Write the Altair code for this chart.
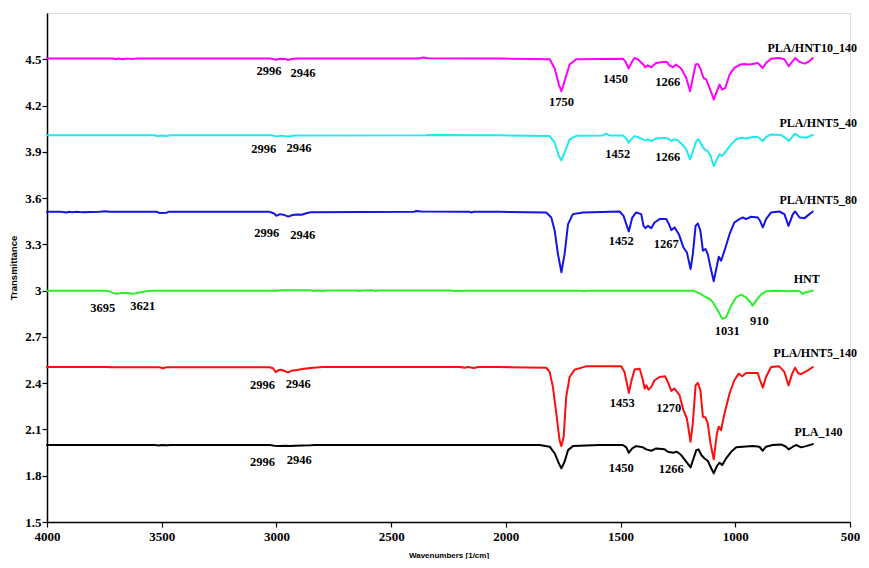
import altair as alt
import pandas as pd

# ---------------- data ----------------
series_names = ["PLA/HNT10_140", "PLA/HNT5_40", "PLA/HNT5_80", "HNT", "PLA/HNT5_140", "PLA_140"]
series_colors = ["#ff00ff", "#1de9ef", "#1414e6", "#2bef2b", "#ff0d0d", "#000000"]
series_widths = [2.0, 2.0, 2.0, 2.0, 2.0, 1.6]

wn_hnt10_140 = [4000, 3710, 3700, 3690, 3670, 3650, 3630, 3610, 3030, 3000, 2985, 2960, 2950, 2930, 2900, 2380, 2360, 2340, 2100, 2027,
                1809, 1787, 1769, 1758, 1744, 1722, 1693, 1490, 1478, 1465, 1449, 1439, 1425, 1400, 1393, 1381, 1366, 1345, 1316, 1298,
                1287, 1272, 1258, 1236, 1214, 1197, 1185, 1173, 1163, 1153, 1139, 1127, 1112, 1094, 1080, 1069, 1057, 1043, 1025, 1004,
                979, 960, 945, 924, 902, 880, 866, 844, 808, 786, 767, 749, 738, 720, 698, 677, 662]
t_hnt10_140 = [4.505, 4.505, 4.500, 4.505, 4.500, 4.505, 4.501, 4.505, 4.505, 4.497, 4.503, 4.502, 4.495, 4.503, 4.505, 4.505, 4.511, 4.506, 4.505, 4.505,
               4.500, 4.440, 4.336, 4.293, 4.358, 4.466, 4.500, 4.504, 4.483, 4.440, 4.487, 4.508, 4.500, 4.465, 4.448, 4.461, 4.448, 4.476, 4.483, 4.483,
               4.461, 4.448, 4.466, 4.440, 4.380, 4.293, 4.380, 4.466, 4.470, 4.444, 4.380, 4.370, 4.315, 4.239, 4.293, 4.336, 4.304, 4.315, 4.400, 4.444,
               4.466, 4.470, 4.466, 4.470, 4.476, 4.444, 4.476, 4.504, 4.508, 4.500, 4.455, 4.490, 4.508, 4.483, 4.472, 4.487, 4.508]

wn_hnt5_40 = [4000, 3530, 3520, 3500, 3480, 3460, 3020, 3000, 2980, 2950, 2920, 2350, 2335, 2027,
              1809, 1787, 1769, 1758, 1744, 1722, 1693, 1577, 1562, 1548, 1490, 1475, 1465, 1449, 1439, 1417, 1395, 1381, 1366, 1345,
              1308, 1294, 1279, 1269, 1250, 1231, 1214, 1197, 1182, 1170, 1160, 1148, 1134, 1120, 1108, 1094, 1080, 1069, 1057, 1040,
              1018, 996, 975, 953, 924, 902, 880, 866, 844, 800, 779, 767, 749, 738, 720, 691, 662]
t_hnt5_40 = [4.007, 4.007, 4.003, 4.006, 4.002, 4.007, 4.007, 4.000, 4.005, 4.000, 4.006, 4.007, 4.009, 4.007,
             4.002, 3.959, 3.873, 3.845, 3.894, 3.981, 4.004, 4.006, 4.017, 4.006, 4.006, 3.987, 3.959, 3.987, 4.002, 3.991, 3.974, 3.981, 3.970, 3.987,
             3.991, 3.987, 3.970, 3.981, 3.974, 3.948, 3.916, 3.851, 3.916, 3.970, 3.981, 3.948, 3.916, 3.905, 3.873, 3.808, 3.851, 3.884, 3.873, 3.905,
             3.948, 3.981, 3.991, 3.987, 3.996, 3.996, 3.970, 3.996, 4.013, 4.009, 3.987, 3.970, 4.002, 4.017, 3.996, 3.991, 4.009]

wn_hnt5_80 = [4000, 3940, 3915, 3905, 3890, 3870, 3850, 3770, 3745, 3730, 3520, 3510, 3480, 3470, 3030, 3010, 3000, 2985, 2965, 2948,
              2930, 2910, 2890, 2870, 2850, 2400, 2390, 2370, 2160, 2150, 2140, 2030,
              1824, 1802, 1787, 1773, 1758, 1744, 1729, 1708, 1664, 1504, 1487, 1475, 1464, 1449, 1432, 1410, 1400, 1391, 1381, 1366,
              1352, 1330, 1301, 1289, 1279, 1265, 1246, 1226, 1211, 1195, 1185, 1173, 1163, 1152, 1141, 1130, 1120, 1108, 1094, 1080,
              1072, 1062, 1047, 1025, 1004, 982, 967, 953, 931, 902, 892, 880, 866, 844, 808, 786, 768, 749, 739, 720, 698, 677, 662]
t_hnt5_80 = [3.511, 3.511, 3.507, 3.511, 3.508, 3.511, 3.509, 3.511, 3.515, 3.511, 3.511, 3.503, 3.505, 3.511, 3.511, 3.500, 3.485, 3.496, 3.490, 3.480,
             3.490, 3.494, 3.492, 3.502, 3.508, 3.511, 3.516, 3.513, 3.511, 3.507, 3.511, 3.511,
             3.507, 3.474, 3.388, 3.237, 3.119, 3.237, 3.431, 3.496, 3.507, 3.513, 3.485, 3.431, 3.384, 3.474, 3.507, 3.496, 3.420, 3.405, 3.420, 3.405,
             3.442, 3.464, 3.464, 3.431, 3.392, 3.410, 3.366, 3.280, 3.248, 3.140, 3.237, 3.420, 3.435, 3.388, 3.259, 3.270, 3.237, 3.151, 3.061, 3.162,
             3.220, 3.194, 3.259, 3.366, 3.442, 3.464, 3.474, 3.464, 3.479, 3.474, 3.453, 3.410, 3.464, 3.507, 3.513, 3.496, 3.420, 3.496, 3.513, 3.474, 3.470, 3.496, 3.513]

wn_hnt = [4000, 3745, 3725, 3705, 3695, 3680, 3660, 3640, 3625, 3610, 3560, 3540, 3000, 2975, 2850, 2840, 2820, 2800, 2780, 2650,
          2640, 2625, 2580, 2570, 2555, 2240, 2225, 2210, 2195, 2180, 1670, 1660, 1650, 1185, 1156, 1127, 1110, 1098, 1076, 1057,
          1040, 1018, 996, 975, 953, 935, 924, 909, 888, 866, 823, 765, 742, 720, 706, 691, 662]
t_hnt = [3.000, 3.000, 2.994, 2.981, 2.979, 2.984, 2.985, 2.983, 2.979, 2.984, 2.997, 3.000, 3.000, 3.002, 3.002, 2.997, 3.001, 2.998, 3.001, 3.001,
         2.997, 3.001, 3.002, 2.997, 3.001, 3.001, 2.997, 3.000, 2.997, 3.000, 3.000, 2.996, 3.000, 3.000, 2.983, 2.957, 2.945, 2.925, 2.871, 2.817,
         2.828, 2.903, 2.957, 2.974, 2.957, 2.925, 2.903, 2.935, 2.974, 2.996, 3.000, 2.996, 3.000, 2.996, 2.979, 2.990, 3.000]

wn_hnt5_140 = [4000, 3740, 3720, 3510, 3495, 3480, 3030, 3015, 3003, 2990, 2980, 2965, 2949, 2930, 2910, 2880, 2850, 2800, 2200, 2180,
               2165, 2140, 2120, 2030,
               1824, 1809, 1795, 1780, 1766, 1758, 1748, 1737, 1722, 1700, 1650, 1497, 1483, 1472, 1464, 1452, 1439, 1417, 1406, 1395,
               1388, 1378, 1366, 1352, 1330, 1306, 1294, 1279, 1265, 1243, 1226, 1211, 1195, 1185, 1173, 1163, 1152, 1141, 1130, 1120,
               1108, 1094, 1080, 1072, 1062, 1047, 1025, 1004, 985, 970, 953, 924, 902, 892, 880, 866, 844, 808, 786, 768, 752, 739,
               727, 713, 684, 662]
t_hnt5_140 = [2.505, 2.505, 2.503, 2.503, 2.497, 2.503, 2.503, 2.497, 2.472, 2.485, 2.487, 2.479, 2.470, 2.483, 2.485, 2.493, 2.499, 2.505, 2.505, 2.500,
              2.505, 2.499, 2.505, 2.505,
              2.500, 2.473, 2.376, 2.203, 2.031, 1.992, 2.052, 2.311, 2.440, 2.488, 2.509, 2.509, 2.473, 2.397, 2.337, 2.419, 2.488, 2.494, 2.440, 2.365,
              2.386, 2.358, 2.376, 2.419, 2.440, 2.445, 2.408, 2.350, 2.365, 2.322, 2.225, 2.171, 2.020, 2.139, 2.386, 2.402, 2.354, 2.182, 2.177, 2.139,
              2.009, 1.906, 2.074, 2.117, 2.096, 2.203, 2.333, 2.419, 2.462, 2.445, 2.466, 2.466, 2.466, 2.419, 2.371, 2.440, 2.505, 2.509, 2.473, 2.386, 2.462, 2.501,
              2.466, 2.458, 2.483, 2.505]

wn_pla_140 = [4000, 3530, 3515, 3500, 3475, 3460, 3030, 3010, 2985, 2960, 2940, 2920, 2850, 2830, 2030,
              1853, 1809, 1787, 1769, 1758, 1744, 1729, 1708, 1591, 1490, 1475, 1464, 1449, 1432, 1403, 1388, 1366, 1345, 1308, 1294,
              1272, 1254, 1236, 1214, 1195, 1182, 1170, 1160, 1148, 1134, 1120, 1108, 1094, 1080, 1069, 1057, 1040, 1018, 996, 967,
              924, 895, 880, 866, 837, 800, 779, 767, 749, 735, 713, 691, 662]
t_pla_140 = [2.000, 2.000, 1.996, 1.999, 1.997, 2.000, 2.000, 1.995, 1.992, 1.994, 1.992, 1.994, 1.997, 2.000, 2.000,
             1.999, 1.988, 1.945, 1.880, 1.848, 1.891, 1.966, 1.992, 1.999, 1.999, 1.984, 1.949, 1.977, 1.992, 1.984, 1.971, 1.962, 1.977, 1.971, 1.955,
             1.949, 1.955, 1.934, 1.891, 1.854, 1.912, 1.966, 1.971, 1.934, 1.912, 1.897, 1.858, 1.815, 1.863, 1.884, 1.869, 1.912, 1.955, 1.984, 1.988,
             1.992, 1.988, 1.962, 1.988, 1.999, 2.003, 1.988, 1.971, 1.988, 1.999, 1.984, 1.992, 2.005]

# series name labels (right end of each trace)
name_wn = [470, 470, 470, 745, 470, 742]
name_t = [4.571, 4.086, 3.589, 3.078, 2.593, 2.082]
name_align = ["right", "right", "right", "left", "right", "left"]

# peak annotations
peak_text = ["2996", "2946", "1750", "1450", "1266",
             "2996", "2946", "1452", "1266",
             "2996", "2946", "1452", "1267",
             "3695", "3621", "1031", "910",
             "2996", "2946", "1453", "1270",
             "2996", "2946", "1450", "1266"]
peak_wn = [3032, 2884, 1758, 1522, 1294,
           3055, 2902, 1512, 1294,
           3042, 2885, 1497, 1301,
           3757, 3583, 1035, 895,
           3061, 2905, 1493, 1290,
           3061, 2901, 1497, 1279]
peak_t = [4.422, 4.410, 4.224, 4.373, 4.353,
          3.916, 3.923, 3.884, 3.866,
          3.375, 3.362, 3.319, 3.302,
          2.888, 2.903, 2.737, 2.806,
          2.386, 2.393, 2.272, 2.242,
          1.890, 1.901, 1.848, 1.841]

x_ticks = [4000, 3500, 3000, 2500, 2000, 1500, 1000, 500]
y_ticks = [1.5, 1.8, 2.1, 2.4, 2.7, 3, 3.3, 3.6, 3.9, 4.2, 4.5]

# ---------------- build tables ----------------
all_wn = [wn_hnt10_140, wn_hnt5_40, wn_hnt5_80, wn_hnt, wn_hnt5_140, wn_pla_140]
all_t = [t_hnt10_140, t_hnt5_40, t_hnt5_80, t_hnt, t_hnt5_140, t_pla_140]
rows = []
for name, wns, ts in zip(series_names, all_wn, all_t):
    for w, t in zip(wns, ts):
        rows.append({"series": name, "wn": w, "t": t})
spectra = pd.DataFrame(rows)

names_df = pd.DataFrame({"label": series_names, "wn": name_wn, "t": name_t, "align": name_align})
peaks_df = pd.DataFrame({"label": peak_text, "wn": peak_wn, "t": peak_t})

serif = "Liberation Serif"
sans = "Liberation Sans"

x_scale = alt.Scale(domain=[500, 4000], reverse=True, nice=False, zero=False)
y_scale = alt.Scale(domain=[1.5, 4.8], nice=False, zero=False)

x_axis = alt.Axis(values=x_ticks, format="d", grid=False, title="Wavenumbers [1/cm]",
                  labelFont=serif, labelFontSize=13, labelFontWeight="bold", labelColor="black",
                  labelPadding=3, tickSize=5, tickColor="black", domainColor="black", domainWidth=1.5,
                  tickWidth=1.2, titleFont=sans, titleFontSize=8, titleFontWeight="bold",
                  titleColor="black", titlePadding=8, labelFlush=False)
y_axis = alt.Axis(values=y_ticks, format="~g", grid=False, title="Transmittance",
                  labelFont=serif, labelFontSize=13, labelFontWeight="bold", labelColor="black",
                  labelPadding=1, tickSize=5, tickColor="black", domainColor="black", domainWidth=1.5,
                  tickWidth=1.2, titleFont=sans, titleFontSize=9.5, titleFontWeight="bold",
                  titleColor="black", titlePadding=6, labelFlush=False)

lines = alt.Chart(spectra).mark_line(strokeJoin="round", strokeCap="round").encode(
    x=alt.X("wn:Q", scale=x_scale, axis=x_axis),
    y=alt.Y("t:Q", scale=y_scale, axis=y_axis),
    color=alt.Color("series:N", scale=alt.Scale(domain=series_names, range=series_colors), legend=None),
    strokeWidth=alt.StrokeWidth("series:N", scale=alt.Scale(domain=series_names, range=series_widths), legend=None),
    detail="series:N",
)

name_right = alt.Chart(names_df[names_df["align"] == "right"]).mark_text(
    font=serif, fontSize=12, fontWeight="bold", color="black", align="right", baseline="middle"
).encode(x=alt.X("wn:Q", scale=x_scale), y=alt.Y("t:Q", scale=y_scale), text="label:N")

name_left = alt.Chart(names_df[names_df["align"] == "left"]).mark_text(
    font=serif, fontSize=12, fontWeight="bold", color="black", align="left", baseline="middle"
).encode(x=alt.X("wn:Q", scale=x_scale), y=alt.Y("t:Q", scale=y_scale), text="label:N")

peaks = alt.Chart(peaks_df).mark_text(
    font=serif, fontSize=12.5, fontWeight="bold", color="black", align="center", baseline="middle"
).encode(x=alt.X("wn:Q", scale=x_scale), y=alt.Y("t:Q", scale=y_scale), text="label:N")

chart = alt.layer(lines, name_right, name_left, peaks).properties(
    width=803, height=509,
    autosize=alt.AutoSizeParams(type="none"),
    padding={"left": 39, "top": 5, "right": 11, "bottom": 37},
).configure_view(stroke=None).configure(background="white")

chart.save("out.html", embed_options={"renderer": "svg", "actions": False})
